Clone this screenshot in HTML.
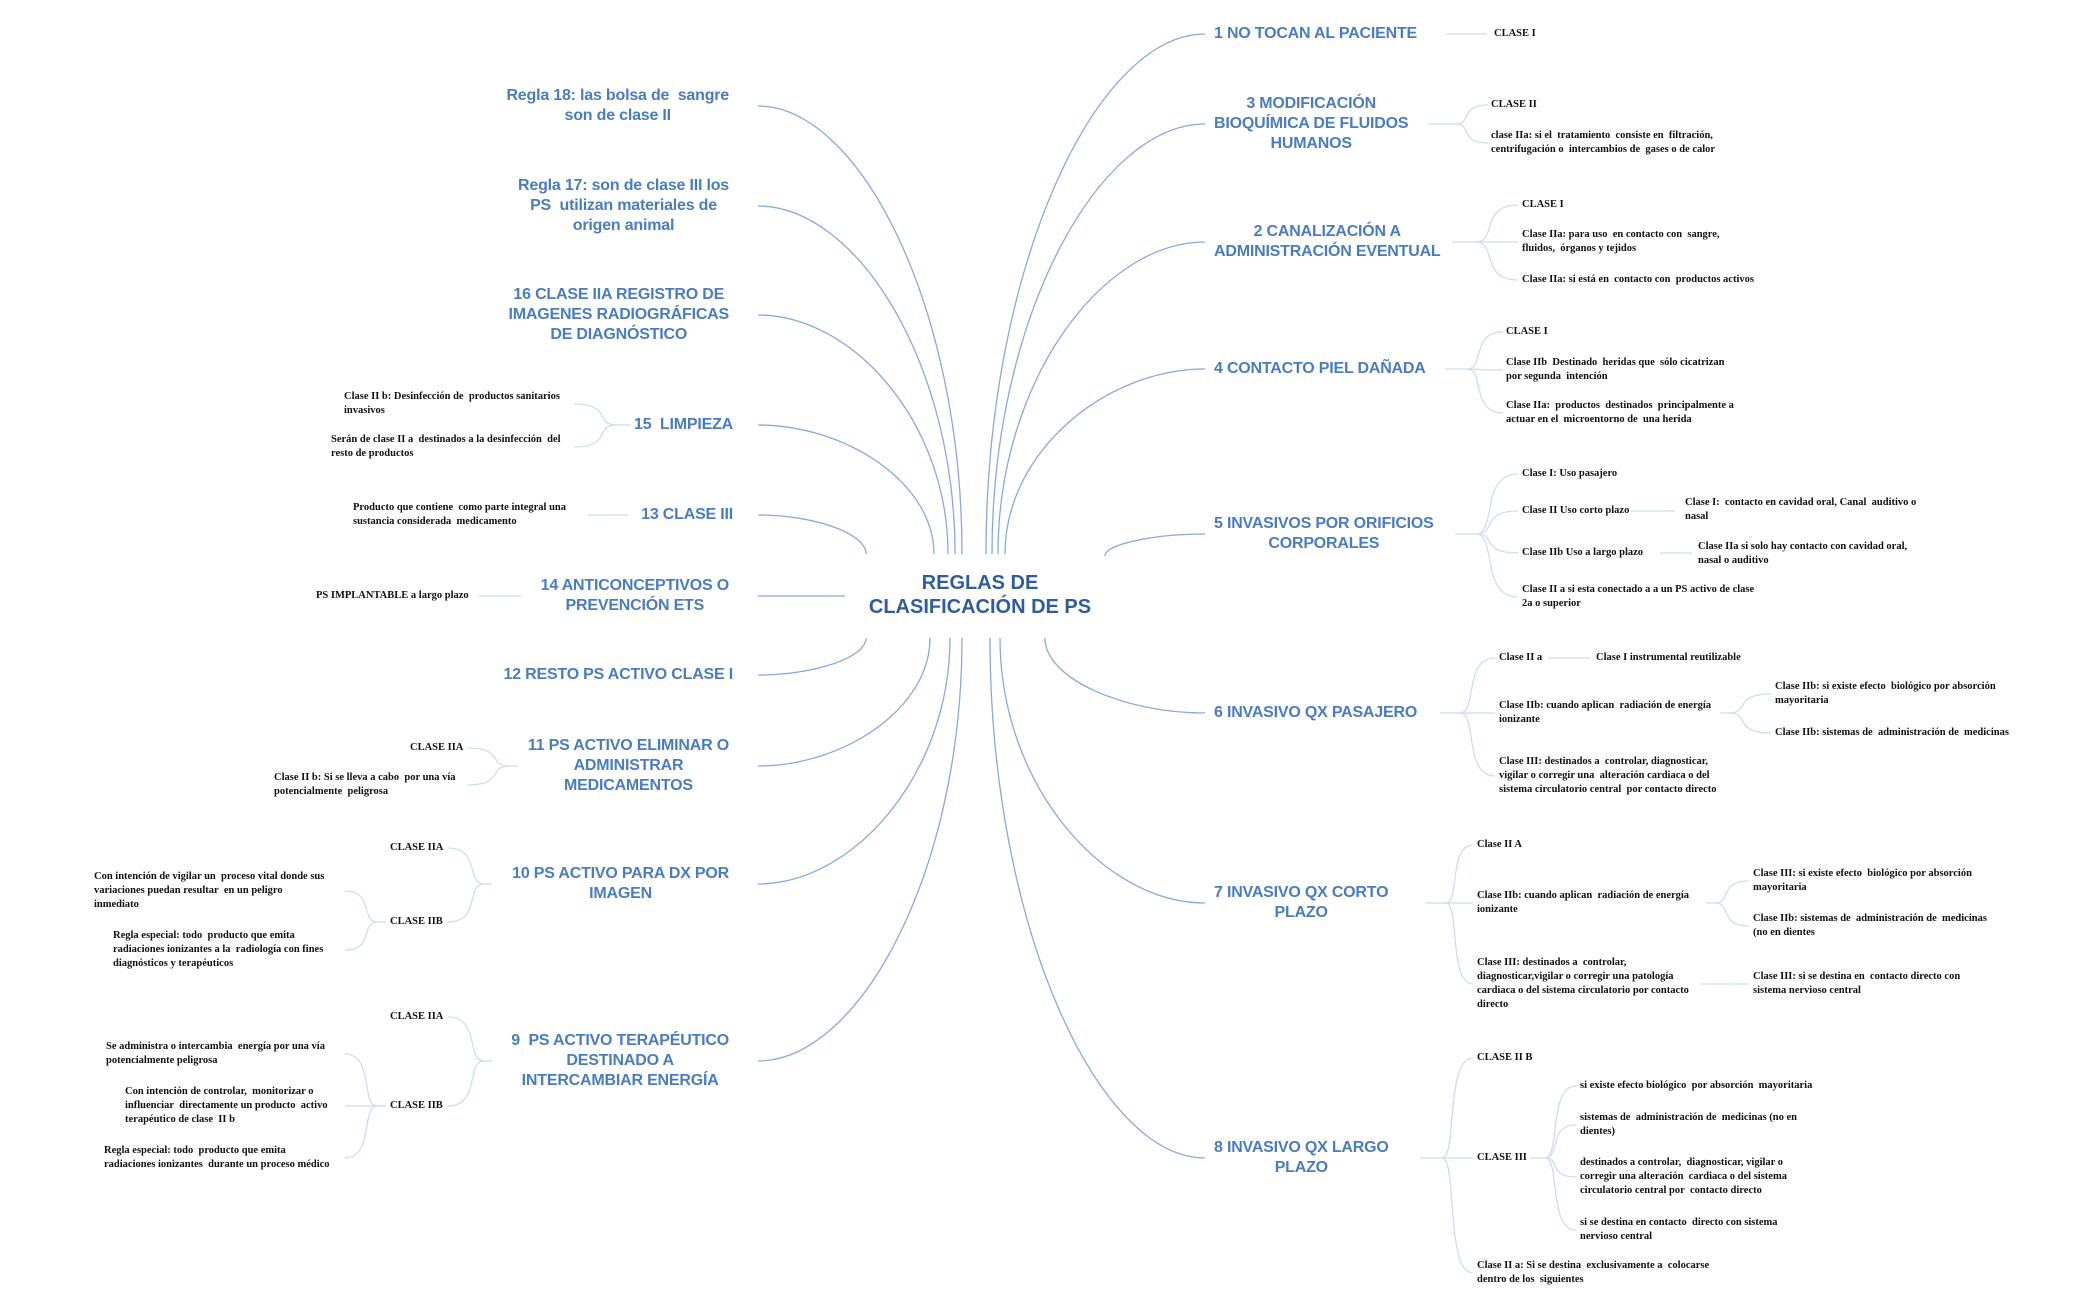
<!DOCTYPE html>
<html><head><meta charset="utf-8">
<style>
html,body{margin:0;padding:0;background:#fff;}
#c{position:relative;width:2099px;height:1300px;overflow:hidden;background:#fff;}
svg{position:absolute;left:0;top:0;}
.m{position:absolute;font-family:"Liberation Sans",sans-serif;font-weight:bold;font-size:16px;line-height:20px;color:#4a7cc0;transform:translateY(-50%);white-space:nowrap;text-align:center;letter-spacing:-0.2px;}
.s{position:absolute;font-family:"Liberation Serif",serif;font-weight:bold;font-size:10.5px;line-height:14px;color:#111;transform:translateY(-50%);white-space:nowrap;}
.ctr{position:absolute;left:850px;width:260px;top:595px;transform:translateY(-50%);text-align:center;font-family:"Liberation Sans",sans-serif;font-weight:bold;font-size:20px;line-height:24px;color:#2f5c9c;white-space:nowrap;}
</style></head><body>
<div id="c">
<svg id="sv" width="2099" height="1300" viewBox="0 0 2099 1300"></svg>

<div class="ctr">REGLAS DE<br>CLASIFICACIÓN DE PS</div>

<div class="m" style="right:1370px;top:106px">Regla 18: las bolsa de&nbsp; sangre<br>son de clase II</div>
<div class="m" style="right:1370px;top:206px">Regla 17: son de clase III los<br>PS&nbsp; utilizan materiales de<br>origen animal</div>
<div class="m" style="right:1370px;top:315px">16 CLASE IIA REGISTRO DE<br>IMAGENES RADIOGRÁFICAS<br>DE DIAGNÓSTICO</div>
<div class="m" style="right:1366px;top:425px">15&nbsp; LIMPIEZA</div>
<div class="m" style="right:1366px;top:515px">13 CLASE III</div>
<div class="m" style="right:1370px;top:596px">14 ANTICONCEPTIVOS O<br>PREVENCIÓN ETS</div>
<div class="m" style="right:1366px;top:675px">12 RESTO PS ACTIVO CLASE I</div>
<div class="m" style="right:1370px;top:766px">11 PS ACTIVO ELIMINAR O<br>ADMINISTRAR<br>MEDICAMENTOS</div>
<div class="m" style="right:1370px;top:884px">10 PS ACTIVO PARA DX POR<br>IMAGEN</div>
<div class="m" style="right:1370px;top:1061px">9&nbsp; PS ACTIVO TERAPÉUTICO<br>DESTINADO A<br>INTERCAMBIAR ENERGÍA</div>

<div class="m" style="left:1214px;top:34px">1 NO TOCAN AL PACIENTE</div>
<div class="m" style="left:1214px;top:124px">3 MODIFICACIÓN<br>BIOQUÍMICA DE FLUIDOS<br>HUMANOS</div>
<div class="m" style="left:1214px;top:242px">2 CANALIZACIÓN A<br>ADMINISTRACIÓN EVENTUAL</div>
<div class="m" style="left:1214px;top:369px">4 CONTACTO PIEL DAÑADA</div>
<div class="m" style="left:1214px;top:534px">5 INVASIVOS POR ORIFICIOS<br>CORPORALES</div>
<div class="m" style="left:1214px;top:713px">6 INVASIVO QX PASAJERO</div>
<div class="m" style="left:1214px;top:903px">7 INVASIVO QX CORTO<br>PLAZO</div>
<div class="m" style="left:1214px;top:1158px">8 INVASIVO QX LARGO<br>PLAZO</div>

<div class="s" style="left:1494px;top:34px">CLASE I</div>
<div class="s" style="left:1491px;top:105px">CLASE II</div>
<div class="s" style="left:1491px;top:143px">clase IIa: si el&nbsp; tratamiento&nbsp; consiste en&nbsp; filtración,<br>centrifugación o&nbsp; intercambios de&nbsp; gases o de calor</div>

<div class="s" style="left:1522px;top:205px">CLASE I</div>
<div class="s" style="left:1522px;top:242px">Clase IIa: para uso&nbsp; en contacto con&nbsp; sangre,<br>fluidos,&nbsp; órganos y tejidos</div>
<div class="s" style="left:1522px;top:280px">Clase IIa: si está en&nbsp; contacto con&nbsp; productos activos</div>

<div class="s" style="left:1506px;top:332px">CLASE I</div>
<div class="s" style="left:1506px;top:370px">Clase IIb&nbsp; Destinado&nbsp; heridas que&nbsp; sólo cicatrizan<br>por segunda&nbsp; intención</div>
<div class="s" style="left:1506px;top:413px">Clase IIa:&nbsp; productos&nbsp; destinados&nbsp; principalmente a<br>actuar en el&nbsp; microentorno de&nbsp; una herida</div>

<div class="s" style="left:1522px;top:474px">Clase I: Uso pasajero</div>
<div class="s" style="left:1522px;top:511px">Clase II Uso corto plazo</div>
<div class="s" style="left:1685px;top:510px">Clase I:&nbsp; contacto en cavidad oral, Canal&nbsp; auditivo o<br>nasal</div>
<div class="s" style="left:1522px;top:553px">Clase IIb Uso a largo plazo</div>
<div class="s" style="left:1698px;top:554px">Clase IIa si solo hay contacto con cavidad oral,<br>nasal o auditivo</div>
<div class="s" style="left:1522px;top:597px">Clase II a si esta conectado a a un PS activo de clase<br>2a o superior</div>

<div class="s" style="left:1499px;top:658px">Clase II a</div>
<div class="s" style="left:1596px;top:658px">Clase I instrumental reutilizable</div>
<div class="s" style="left:1499px;top:713px">Clase IIb: cuando aplican&nbsp; radiación de energía<br>ionizante</div>
<div class="s" style="left:1775px;top:694px">Clase IIb: si existe efecto&nbsp; biológico por absorción<br>mayoritaria</div>
<div class="s" style="left:1775px;top:733px">Clase IIb: sistemas de&nbsp; administración de&nbsp; medicinas</div>
<div class="s" style="left:1499px;top:776px">Clase III: destinados a&nbsp; controlar, diagnosticar,<br>vigilar o corregir una&nbsp; alteración cardiaca o del<br>sistema circulatorio central&nbsp; por contacto directo</div>

<div class="s" style="left:1477px;top:845px">Clase II A</div>
<div class="s" style="left:1477px;top:903px">Clase IIb: cuando aplican&nbsp; radiación de energía<br>ionizante</div>
<div class="s" style="left:1753px;top:881px">Clase III: si existe efecto&nbsp; biológico por absorción<br>mayoritaria</div>
<div class="s" style="left:1753px;top:926px">Clase IIb: sistemas de&nbsp; administración de&nbsp; medicinas<br>(no en dientes</div>
<div class="s" style="left:1477px;top:984px">Clase III: destinados a&nbsp; controlar,<br>diagnosticar,vigilar o corregir una patología<br>cardiaca o del sistema circulatorio por contacto<br>directo</div>
<div class="s" style="left:1753px;top:984px">Clase III: si se destina en&nbsp; contacto directo con<br>sistema nervioso central</div>

<div class="s" style="left:1477px;top:1058px">CLASE II B</div>
<div class="s" style="left:1477px;top:1158px">CLASE III</div>
<div class="s" style="left:1580px;top:1086px">si existe efecto biológico&nbsp; por absorción&nbsp; mayoritaria</div>
<div class="s" style="left:1580px;top:1125px">sistemas de&nbsp; administración de&nbsp; medicinas (no en<br>dientes)</div>
<div class="s" style="left:1580px;top:1177px">destinados a controlar,&nbsp; diagnosticar, vigilar o<br>corregir una alteración&nbsp; cardiaca o del sistema<br>circulatorio central por&nbsp; contacto directo</div>
<div class="s" style="left:1580px;top:1230px">si se destina en contacto&nbsp; directo con sistema<br>nervioso central</div>
<div class="s" style="left:1477px;top:1273px">Clase II a: Si se destina&nbsp; exclusivamente a&nbsp; colocarse<br>dentro de los&nbsp; siguientes</div>

<div class="s" style="left:344px;top:404px">Clase II b: Desinfección de&nbsp; productos sanitarios<br>invasivos</div>
<div class="s" style="left:331px;top:447px">Serán de clase II a&nbsp; destinados a la desinfección&nbsp; del<br>resto de productos</div>
<div class="s" style="left:353px;top:515px">Producto que contiene&nbsp; como parte integral una<br>sustancia considerada&nbsp; medicamento</div>
<div class="s" style="left:316px;top:596px">PS IMPLANTABLE a largo plazo</div>
<div class="s" style="left:410px;top:748px">CLASE IIA</div>
<div class="s" style="left:274px;top:785px">Clase II b: Si se lleva a cabo&nbsp; por una vía<br>potencialmente&nbsp; peligrosa</div>
<div class="s" style="left:390px;top:848px">CLASE IIA</div>
<div class="s" style="left:390px;top:922px">CLASE IIB</div>
<div class="s" style="left:94px;top:891px">Con intención de vigilar un&nbsp; proceso vital donde sus<br>variaciones puedan resultar&nbsp; en un peligro<br>inmediato</div>
<div class="s" style="left:113px;top:950px">Regla especial: todo&nbsp; producto que emita<br>radiaciones ionizantes a la&nbsp; radiología con fines<br>diagnósticos y terapéuticos</div>
<div class="s" style="left:390px;top:1017px">CLASE IIA</div>
<div class="s" style="left:390px;top:1106px">CLASE IIB</div>
<div class="s" style="left:106px;top:1054px">Se administra o intercambia&nbsp; energía por una vía<br>potencialmente peligrosa</div>
<div class="s" style="left:125px;top:1106px">Con intención de controlar,&nbsp; monitorizar o<br>influenciar&nbsp; directamente un producto&nbsp; activo<br>terapéutico de clase&nbsp; II b</div>
<div class="s" style="left:104px;top:1158px">Regla especial: todo&nbsp; producto que emita<br>radiaciones ionizantes&nbsp; durante un proceso médico</div>
</div>

<script>
(function(){
var sv=document.getElementById('sv'),NS='http://www.w3.org/2000/svg';
function p(d,c,w){var e=document.createElementNS(NS,'path');e.setAttribute('d',d);e.setAttribute('fill','none');e.setAttribute('stroke',c);e.setAttribute('stroke-width',w);sv.appendChild(e);}
var MC='#86a9dc',SC='#cddcf1';
function main(sx,sy,ex,ey){var dx=ex-sx,dy=ey-sy;
 p('M'+sx+' '+sy+' C'+(sx+dx*0.5)+' '+sy+' '+ex+' '+(ey-dy*0.55)+' '+ex+' '+ey,MC,1.3);}
[[106,962,554],[206,955,554],[315,948,554],[425,934,554],[515,866,554],[675,866,638],[766,930,638],[884,950,638],[1061,962,638]].forEach(function(a){main(758,a[0],a[1],a[2]);});
p('M758 596 L845 596',MC,1.3);
[[34,986,554],[124,992,554],[242,998,554],[369,1005,554],[534,1105,556],[713,1045,638],[903,1000,638],[1158,990,638]].forEach(function(a){main(1205,a[0],a[1],a[2]);});
function ln(x1,y1,x2,y2){p('M'+x1+' '+y1+' L'+x2+' '+y2,SC,1.3);}
function br(s,bx,py,ch){ln(s,py,bx,py);ch.forEach(function(c){var w=c[0]-bx;
 p('M'+bx+' '+py+' C'+(bx+w*0.5)+' '+py+' '+(bx+w*0.1)+' '+c[1]+' '+c[0]+' '+c[1],SC,1.3);});}
ln(1446,34,1487,34);
br(1428,1456,124,[[1488,105],[1488,143]]);
br(1452,1476,242,[[1518,205],[1518,242],[1518,280]]);
br(1445,1467,369,[[1503,332],[1503,370],[1503,413]]);
br(1455,1476,534,[[1518,474],[1518,511],[1518,553],[1518,597]]);
ln(1631,511,1675,511);ln(1660,553,1692,553);
br(1440,1460,713,[[1495,658],[1495,713],[1495,776]]);
ln(1548,658,1590,658);
br(1720,1729,713,[[1771,694],[1771,733]]);
br(1425,1446,903,[[1473,845],[1473,903],[1473,984]]);
br(1706,1715,903,[[1749,881],[1749,926]]);
ln(1700,984,1749,984);
br(1420,1442,1158,[[1473,1058],[1473,1158],[1473,1273]]);
br(1530,1545,1158,[[1576,1086],[1576,1125],[1576,1177],[1576,1230]]);
br(630,616,425,[[574,404],[574,447]]);
ln(628,515,588,515);
ln(521,596,479,596);
br(518,509,766,[[467,748],[467,785]]);
br(492,484,884,[[448,848],[448,922]]);
br(386,377,922,[[345,891],[345,950]]);
br(492,484,1061,[[448,1017],[448,1106]]);
br(386,377,1106,[[345,1054],[345,1106],[345,1158]]);
})();
</script>
</body></html>
